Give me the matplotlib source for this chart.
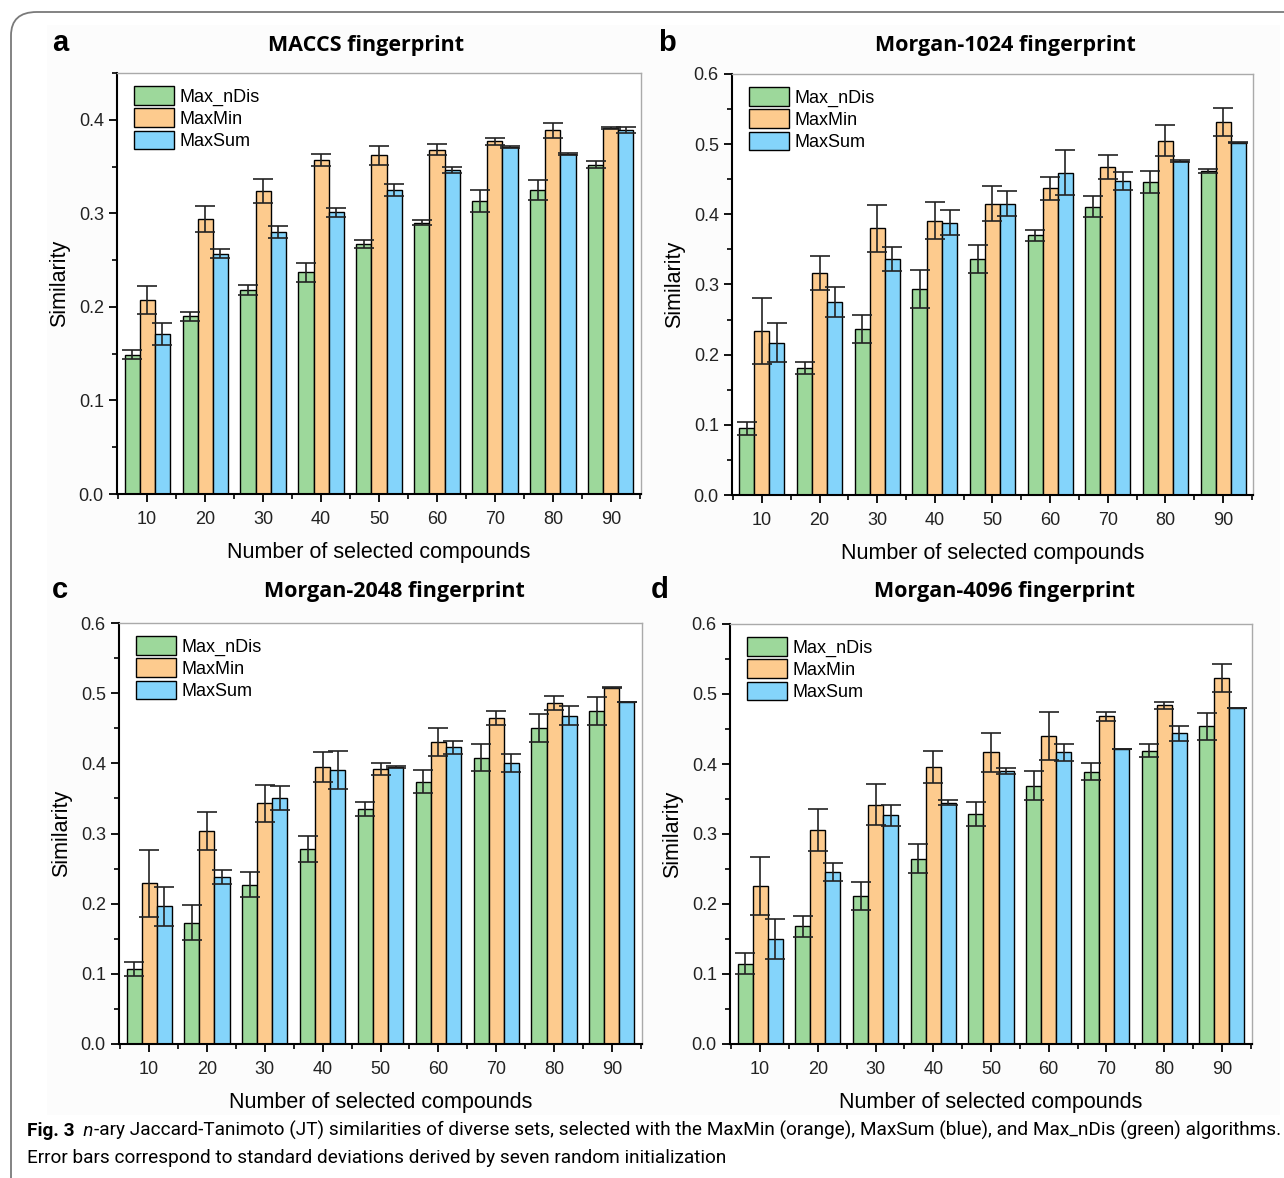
import numpy as np
import matplotlib
matplotlib.use("Agg")
import matplotlib.pyplot as plt
from matplotlib.patches import FancyBboxPatch, Rectangle
from matplotlib.ticker import MultipleLocator, FormatStrFormatter

W, H = 1284, 1178

compounds = [10, 20, 30, 40, 50, 60, 70, 80, 90]
methods = ["Max_nDis", "MaxMin", "MaxSum"]
colors = ["#9dd89b", "#fdcb8e", "#84d4fb"]

# panel a - MACCS
maccs_nDis = [0.149, 0.190, 0.218, 0.237, 0.267, 0.290, 0.313, 0.325, 0.352]
maccs_nDis_sd = [0.005, 0.005, 0.005, 0.010, 0.004, 0.003, 0.012, 0.011, 0.004]
maccs_min = [0.207, 0.294, 0.324, 0.357, 0.362, 0.368, 0.377, 0.389, 0.391]
maccs_min_sd = [0.015, 0.014, 0.013, 0.006, 0.010, 0.006, 0.004, 0.008, 0.001]
maccs_sum = [0.171, 0.257, 0.280, 0.301, 0.325, 0.346, 0.371, 0.363, 0.389]
maccs_sum_sd = [0.012, 0.005, 0.006, 0.005, 0.006, 0.003, 0.001, 0.001, 0.003]

# panel b - Morgan-1024
m1024_nDis = [0.095, 0.181, 0.237, 0.293, 0.337, 0.370, 0.411, 0.446, 0.462]
m1024_nDis_sd = [0.009, 0.008, 0.020, 0.027, 0.020, 0.008, 0.015, 0.016, 0.003]
m1024_min = [0.234, 0.316, 0.380, 0.391, 0.415, 0.437, 0.468, 0.505, 0.531]
m1024_min_sd = [0.047, 0.024, 0.033, 0.026, 0.025, 0.016, 0.017, 0.022, 0.020]
m1024_sum = [0.217, 0.275, 0.336, 0.388, 0.415, 0.459, 0.447, 0.476, 0.502]
m1024_sum_sd = [0.028, 0.021, 0.017, 0.018, 0.018, 0.032, 0.013, 0.001, 0.001]

# panel c - Morgan-2048
m2048_nDis = [0.107, 0.173, 0.227, 0.278, 0.335, 0.374, 0.408, 0.451, 0.474]
m2048_nDis_sd = [0.010, 0.025, 0.018, 0.018, 0.010, 0.016, 0.019, 0.020, 0.020]
m2048_min = [0.229, 0.304, 0.343, 0.395, 0.392, 0.430, 0.464, 0.486, 0.508]
m2048_min_sd = [0.048, 0.027, 0.026, 0.021, 0.009, 0.020, 0.010, 0.010, 0.001]
m2048_sum = [0.196, 0.238, 0.351, 0.390, 0.395, 0.423, 0.400, 0.468, 0.488]
m2048_sum_sd = [0.028, 0.010, 0.017, 0.027, 0.001, 0.009, 0.013, 0.014, 0.0]

# panel d - Morgan-4096
m4096_nDis = [0.115, 0.168, 0.211, 0.265, 0.329, 0.369, 0.389, 0.419, 0.454]
m4096_nDis_sd = [0.015, 0.015, 0.020, 0.021, 0.017, 0.021, 0.012, 0.009, 0.019]
m4096_min = [0.226, 0.306, 0.342, 0.396, 0.417, 0.440, 0.468, 0.484, 0.523]
m4096_min_sd = [0.041, 0.030, 0.029, 0.023, 0.028, 0.034, 0.006, 0.005, 0.020]
m4096_sum = [0.150, 0.246, 0.327, 0.345, 0.390, 0.417, 0.422, 0.444, 0.480]
m4096_sum_sd = [0.028, 0.013, 0.015, 0.004, 0.004, 0.012, 0.0, 0.011, 0.0]

panels = [
    ("a", "MACCS fingerprint", 0.45, (117, 641, 73, 494), 366, 46, 52, 43,
     [maccs_nDis, maccs_min, maccs_sum], [maccs_nDis_sd, maccs_min_sd, maccs_sum_sd]),
    ("b", "Morgan-1024 fingerprint", 0.6, (732, 1253, 74, 495), 1005, 46, 658, 43,
     [m1024_nDis, m1024_min, m1024_sum], [m1024_nDis_sd, m1024_min_sd, m1024_sum_sd]),
    ("c", "Morgan-2048 fingerprint", 0.6, (119, 642, 623, 1044), 394, 592, 52, 590,
     [m2048_nDis, m2048_min, m2048_sum], [m2048_nDis_sd, m2048_min_sd, m2048_sum_sd]),
    ("d", "Morgan-4096 fingerprint", 0.6, (730, 1252, 624, 1044), 1005, 592, 651, 590,
     [m4096_nDis, m4096_min, m4096_sum], [m4096_nDis_sd, m4096_min_sd, m4096_sum_sd]),
]

plt.rcParams['font.family'] = ['Liberation Sans', 'DejaVu Sans']

fig = plt.figure(figsize=(W / 100, H / 100), dpi=100)

# very faint grey image area behind the four panels
fig.patches.append(Rectangle((47 / W, 1 - 1115 / H), (1280 - 47) / W, (1115 - 25) / H,
                             transform=fig.transFigure, facecolor="#fcfcfc",
                             edgecolor="none", zorder=-5))

frame = FancyBboxPatch((11 / W, -0.05), 1.1, 1 - 12 / H + 0.05,
                       boxstyle="round,pad=0,rounding_size=0.02",
                       transform=fig.transFigure, facecolor="none",
                       edgecolor="#7a7a7a", linewidth=1.3, clip_on=False)
fig.patches.append(frame)

bw = 2.6
x = np.array(compounds, dtype=float)

for letter, title, ymax, box, tx, ty, lx, ly, vals, sds in panels:
    left, right, top, bottom = box
    aw, ah = right - left, bottom - top
    ax = fig.add_axes([left / W, 1 - bottom / H, aw / W, ah / H])
    for i in range(3):
        ax.bar(x + (i - 1) * bw, vals[i], bw, color=colors[i], edgecolor="black",
               linewidth=1.0, label=methods[i], zorder=2)
        ax.errorbar(x + (i - 1) * bw, vals[i], yerr=sds[i], fmt="none",
                    ecolor="#222222", elinewidth=1.2, capsize=7, capthick=1.2, zorder=3)
    ax.set_xlim(4.8, 95.2)
    ax.set_ylim(0, ymax)
    ax.set_xticks(compounds)
    ax.xaxis.set_minor_locator(MultipleLocator(10, offset=5))
    ax.yaxis.set_major_locator(MultipleLocator(0.1))
    ax.yaxis.set_minor_locator(MultipleLocator(0.05))
    ax.yaxis.set_major_formatter(FormatStrFormatter("%.1f"))
    ax.tick_params(axis="x", which="major", pad=6)
    ax.tick_params(which="major", direction="out", length=6, width=1.3, labelsize=13,
                   colors="black", labelcolor="#222222")
    ax.tick_params(which="minor", direction="out", length=3.5, width=1.2)
    for s in ["left", "bottom"]:
        ax.spines[s].set_linewidth(1.5)
    for s in ["top", "right"]:
        ax.spines[s].set_color("#aaaaaa")
        ax.spines[s].set_linewidth(1.0)
    ax.set_ylabel("Similarity", fontsize=15.5, labelpad=6)
    ax.set_xlabel("Number of selected compounds", fontsize=15.5, labelpad=10)
    ax.legend(loc="upper left", bbox_to_anchor=(17 / aw, 1 - 13 / ah), frameon=False,
              fontsize=13, handlelength=2.2, handleheight=1.2, labelspacing=0.16,
              handletextpad=0.3, borderaxespad=0, borderpad=0)
    fig.text(tx / W, 1 - ty / H, title, fontsize=15.5, fontweight="bold",
             family="Open Sans", ha="center", va="center")
    fig.text(lx / W, 1 - ly / H, letter, fontsize=21, fontweight="bold",
             ha="left", va="center")

# caption
cap_font = ["Roboto", "DejaVu Sans"]
cap_size = 12
t1 = fig.text(27 / W, 1 - 1131 / H, "Fig. 3", fontsize=cap_size, fontweight="bold",
              family=cap_font, va="center")
n_txt = fig.add_artist(matplotlib.text.Annotation(
    "  n", xy=(1, 0), xycoords=t1, fontsize=cap_size, style="italic",
    family=cap_font, va="bottom", annotation_clip=False))
rest = fig.add_artist(matplotlib.text.Annotation(
    "-ary Jaccard-Tanimoto (JT) similarities of diverse sets, selected with the MaxMin (orange), "
    "MaxSum (blue), and Max_nDis (green) algorithms.",
    xy=(1, 0), xycoords=n_txt, fontsize=cap_size,
    family=cap_font, va="bottom", annotation_clip=False))
t4 = fig.text(27 / W, 1 - 1158 / H, "Error bars correspond to standard deviations derived by seven random initialization",
              fontsize=cap_size, family=cap_font, va="center")

# fit the first caption line to the width it has in the figure
fig.canvas.draw()
r = fig.canvas.get_renderer()
line_right = rest.get_window_extent(r).x1
scale = (1276 - 27) / (line_right - 27)
for t in [t1, n_txt, rest, t4]:
    t.set_fontsize(cap_size * scale)

fig.savefig("out.png", dpi=100)
